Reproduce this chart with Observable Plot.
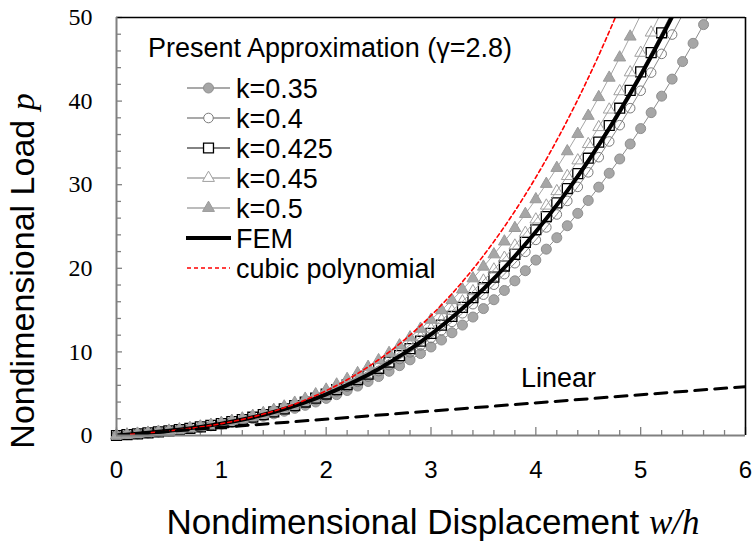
<!DOCTYPE html>
<html><head><meta charset="utf-8">
<script src="https://cdn.jsdelivr.net/npm/d3@7"></script>
<script src="https://cdn.jsdelivr.net/npm/@observablehq/plot@0.6"></script>
<style>body{margin:0;background:#fff}svg{display:block}</style>
</head><body><div id="chart"></div>
<script>
// displacement grid w/h (marker positions)
const wGrid = [0,0.1,0.2,0.3,0.4,0.5,0.6,0.7,0.8,0.9,1.0,1.1,1.2,1.3,1.4,1.5,1.6,1.7,1.8,1.9,2.0,2.1,2.2,2.3,2.4,2.5,2.6,2.7,2.8,2.9,3.0,3.1,3.2,3.3,3.4,3.5,3.6,3.7,3.8,3.9,4.0,4.1,4.2,4.3,4.4,4.5,4.6,4.7,4.8,4.9,5.0,5.1,5.2,5.3,5.4,5.5,5.6,5.7];
// Present approximation, load p for each k
const pK035 = [0,0.10,0.20,0.31,0.43,0.55,0.68,0.83,0.99,1.16,1.35,1.56,1.78,2.03,2.30,2.59,2.90,3.25,3.61,4.01,4.44,4.89,5.38,5.91,6.46,7.05,7.68,8.35,9.05,9.80,10.59,11.42,12.29,13.21,14.17,15.18,16.24,17.35,18.50,19.71,20.98,22.29,23.66,25.09,26.57,28.11,29.71,31.37,33.08,34.87,36.71,38.62,40.59,42.63,44.73,46.91,49.15,51.46];
const pK040 = [0,0.10,0.20,0.31,0.43,0.56,0.70,0.85,1.01,1.20,1.40,1.62,1.87,2.13,2.43,2.74,3.09,3.47,3.87,4.31,4.79,5.29,5.84,6.42,7.04,7.70,8.41,9.15,9.95,10.78,11.67,12.60,13.59,14.62,15.71,16.85,18.04,19.30,20.61,21.97,23.40,24.89,26.44,28.06,29.74,31.48,33.29,35.17,37.12,39.15,41.24,43.41,45.65,47.96,50.35];
const pK0425 = [0,0.10,0.20,0.31,0.43,0.56,0.70,0.86,1.03,1.22,1.43,1.66,1.91,2.19,2.49,2.82,3.18,3.58,4.00,4.46,4.96,5.49,6.07,6.68,7.33,8.03,8.77,9.56,10.39,11.28,12.21,13.20,14.24,15.33,16.48,17.68,18.95,20.27,21.66,23.10,24.61,26.19,27.83,29.54,31.32,33.17,35.09,37.08,39.15,41.29,43.50,45.80,48.17,50.63];
const pK045 = [0,0.10,0.20,0.32,0.43,0.56,0.71,0.87,1.04,1.24,1.45,1.69,1.95,2.24,2.55,2.90,3.28,3.69,4.13,4.61,5.13,5.69,6.29,6.94,7.62,8.35,9.13,9.96,10.84,11.77,12.75,13.79,14.89,16.04,17.25,18.52,19.85,21.25,22.71,24.23,25.83,27.49,29.22,31.03,32.90,34.85,36.88,38.98,41.17,43.43,45.77,48.19,50.70];
const pK050 = [0,0.10,0.21,0.32,0.44,0.57,0.72,0.88,1.07,1.27,1.50,1.75,2.03,2.34,2.68,3.06,3.46,3.91,4.39,4.92,5.48,6.09,6.75,7.45,8.20,9.00,9.86,10.77,11.73,12.76,13.84,14.98,16.18,17.45,18.79,20.19,21.66,23.20,24.81,26.49,28.25,30.09,32.00,33.99,36.07,38.23,40.47,42.79,45.21,47.71,50.30];
// FEM
const femW = [0,0.25,0.5,0.75,1.0,1.25,1.5,1.75,2.0,2.25,2.5,2.75,3.0,3.25,3.5,3.75,4.0,4.25,4.5,4.75,5.0,5.25,5.5];
const femP = [0,0.26,0.56,0.94,1.42,2.03,2.81,3.76,4.93,6.32,7.96,9.88,12.10,14.64,17.52,20.75,24.37,28.39,32.83,37.71,43.05,48.87,55.19];
// cubic polynomial
const cubW = [0,0.25,0.5,0.75,1.0,1.25,1.5,1.75,2.0,2.25,2.5,2.75,3.0,3.25,3.5,3.75,4.0,4.25,4.5,4.75,5.0];
const cubP = [0,0.26,0.55,0.93,1.42,2.07,2.92,4.00,5.36,7.03,9.06,11.48,14.34,17.67,21.51,25.90,30.88,36.49,42.77,49.76,57.50];
// linear
const linW = [0, 6];
const linP = [0, 5.85];
// axis ticks
const xMajor = [0,1,2,3,4,5,6];
const xMinor = [0.2,0.4,0.6,0.8,1.2,1.4,1.6,1.8,2.2,2.4,2.6,2.8,3.2,3.4,3.6,3.8,4.2,4.4,4.6,4.8,5.2,5.4,5.6,5.8];
const yMajor = [0,10,20,30,40,50];
const yMinor = [2,4,6,8,12,14,16,18,22,24,26,28,32,34,36,38,42,44,46,48];
const legendLabels = ["k=0.35","k=0.4","k=0.425","k=0.45","k=0.5","FEM","cubic polynomial"];

const rows = (ws, ps) => ps.map((p, i) => ({w: ws[i], p}));
const s035 = rows(wGrid, pK035), s040 = rows(wGrid, pK040), s0425 = rows(wGrid, pK0425),
      s045 = rows(wGrid, pK045), s050 = rows(wGrid, pK050);
const fem = rows(femW, femP), cub = rows(cubW, cubP), lin = rows(linW, linP);
const inside = d => d.p <= 50;

const SANS = "'Liberation Sans', Arial, sans-serif";
const SERIF = "'Liberation Serif', 'Times New Roman', serif";

const W = 753, H = 542, ML = 116, MR = 8, MT = 17, MB = 107;
const FW = W - ML - MR, FH = H - MT - MB;

const styles = [
  {data: s035, line: "#8c8c8c", symbol: "circle", r: 5, fill: "#a6a6a6", stroke: "#8f8f8f", sw: 1},
  {data: s040, line: "#8c8c8c", symbol: "circle", r: 4.8, fill: "none", stroke: "#7a7a7a", sw: 1},
  {data: s0425, line: "#5a5a5a", symbol: "square", r: 5.6, fill: "none", stroke: "#000", sw: 1.3},
  {data: s045, line: "#a6a6a6", symbol: "triangle", r: 4.4, fill: "none", stroke: "#a0a0a0", sw: 1},
  {data: s050, line: "#a6a6a6", symbol: "triangle", r: 4.4, fill: "#a6a6a6", stroke: "#9a9a9a", sw: 1}
];

const seriesMarks = styles.flatMap(s => [
  Plot.line(s.data, {x: "w", y: "p", stroke: s.line, strokeWidth: 1, clip: true}),
  Plot.dot(s.data.filter(inside), {x: "w", y: "p", symbol: s.symbol, r: s.r, fill: s.fill, stroke: s.stroke, strokeWidth: s.sw})
]);

const plot = Plot.plot({
  width: W, height: H,
  marginLeft: ML, marginRight: MR, marginTop: MT, marginBottom: MB,
  x: {domain: [0, 6], label: null},
  y: {domain: [0, 50], label: null},
  style: {fontFamily: SANS, background: "white", overflow: "visible"},
  marks: [
    // inward ticks
    Plot.tickX(xMinor, {x: d => d, insetTop: FH - 5, stroke: "#808080", strokeWidth: 1.3}),
    Plot.tickX(xMajor, {x: d => d, insetTop: FH - 8, stroke: "#808080", strokeWidth: 1.3}),
    Plot.tickY(yMinor, {y: d => d, insetRight: FW - 5, stroke: "#808080", strokeWidth: 1.3}),
    Plot.tickY(yMajor, {y: d => d, insetRight: FW - 6, stroke: "#808080", strokeWidth: 1.3}),
    // tick labels
    Plot.axisX({ticks: xMajor, tickSize: 0, tickPadding: 25, tickFormat: d => String(d), fontSize: 24, fontFamily: SANS, fill: "#000", label: null}),
    Plot.axisY({ticks: yMajor, tickSize: 0, tickPadding: 24, tickFormat: d => String(d), fontSize: 24, fontFamily: SERIF, fill: "#000", label: null}),
    ...seriesMarks,
    Plot.line(fem, {x: "w", y: "p", stroke: "#000", strokeWidth: 4, curve: "catmull-rom", clip: true}),
    Plot.line(cub, {x: "w", y: "p", stroke: "#ff0000", strokeWidth: 1.6, strokeDasharray: "4,3", curve: "catmull-rom", clip: true}),
    Plot.line(lin, {x: "w", y: "p", stroke: "#000", strokeWidth: 3, strokeDasharray: "12,8", clip: true}),
    Plot.ruleY([50], {stroke: "#000", strokeWidth: 1.6}),
    Plot.ruleX([6], {stroke: "#000", strokeWidth: 1.6}),
    Plot.ruleY([0], {stroke: "#808080", strokeWidth: 2}),
    Plot.ruleX([0], {stroke: "#808080", strokeWidth: 2})
  ]
});
document.getElementById("chart").append(plot);

const svg = d3.select(plot);
// axis titles
const xt = svg.append("text").attr("x", 433).attr("y", 534).attr("text-anchor", "middle")
  .attr("font-family", SANS).attr("font-size", 35).attr("fill", "#000");
xt.append("tspan").text("Nondimensional Displacement ");
xt.append("tspan").attr("font-family", SERIF).attr("font-style", "italic").text("w/h");
const yt = svg.append("text").attr("transform", "translate(34,271) rotate(-90)").attr("text-anchor", "middle")
  .attr("font-family", SANS).attr("font-size", 34).attr("fill", "#000");
yt.append("tspan").text("Nondimensional Load ");
yt.append("tspan").attr("font-family", SERIF).attr("font-style", "italic").text("p");

// annotation
svg.append("text").attr("x", 521).attr("y", 387).attr("text-anchor", "start").attr("font-family", SANS).attr("font-size", 27)
  .attr("fill", "#000").text("Linear");

// legend
const lg = svg.append("g").attr("text-anchor", "start");
lg.append("text").attr("x", 148).attr("y", 57).attr("font-family", SANS).attr("font-size", 27)
  .attr("fill", "#000").text("Present Approximation (\u03b3=2.8)");
const symMap = {circle: d3.symbolCircle, square: d3.symbolSquare, triangle: d3.symbolTriangle};
const rowY = [88, 118, 148, 178, 208, 238, 268];
legendLabels.forEach((lab, i) => {
  const y = rowY[i];
  if (i < 5) {
    const s = styles[i];
    lg.append("line").attr("x1", 187).attr("x2", 230).attr("y1", y).attr("y2", y)
      .attr("stroke", s.line).attr("stroke-width", 1.3);
    lg.append("path").attr("transform", `translate(208.5,${y})`)
      .attr("d", d3.symbol(symMap[s.symbol], Math.PI * s.r * s.r)())
      .attr("fill", s.fill === "none" ? "white" : s.fill).attr("stroke", s.stroke).attr("stroke-width", s.sw);
  } else if (i === 5) {
    lg.append("line").attr("x1", 186).attr("x2", 231).attr("y1", y).attr("y2", y)
      .attr("stroke", "#000").attr("stroke-width", 4);
  } else {
    lg.append("line").attr("x1", 187).attr("x2", 230).attr("y1", y).attr("y2", y)
      .attr("stroke", "#ff0000").attr("stroke-width", 1.6).attr("stroke-dasharray", "4,3");
  }
  lg.append("text").attr("x", 236).attr("y", y).attr("dy", "0.36em").attr("font-family", SANS)
    .attr("font-size", 27).attr("fill", "#000").text(lab);
});
</script></body></html>
